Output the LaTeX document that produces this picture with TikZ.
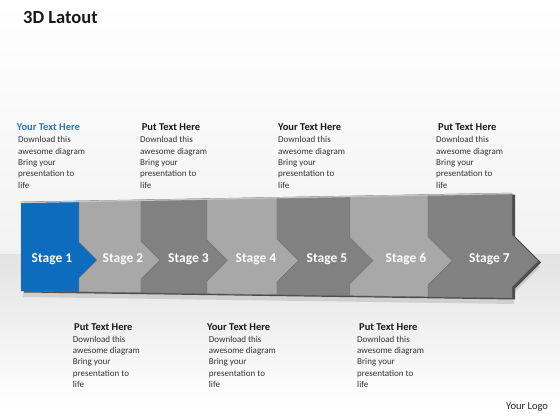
\documentclass[tikz,border=0pt]{standalone}
\usepackage{fontspec}
\setmainfont{Carlito}
\usepackage{tikz}

\definecolor{stageblue}{RGB}{14,108,190}
\definecolor{headblue}{RGB}{46,117,182}
\definecolor{lightstage}{RGB}{168,168,168}
\definecolor{darkstage}{RGB}{129,129,129}

\begin{document}
\begin{tikzpicture}[x=1pt, y=-1pt,
	stagelbl/.style={text=white, font=\fontsize{13.5}{16}\selectfont\bfseries, anchor=base, inner sep=0pt},
	head/.style={font=\fontsize{10.5}{12}\selectfont\bfseries, anchor=base west, inner sep=0pt, text=black!90},
	body/.style={font=\fontsize{9}{11.33}\selectfont, align=left, anchor=base west, inner sep=0pt, text=black!80},
	edge/.style={draw=black!55, line width=0.4pt}]
	\useasboundingbox (0,0) rectangle (560,420);

	% background, floor
	\shade[top color=white, bottom color=gray!10] (0,0) rectangle (560,254);
	\shade[top color=gray!22, bottom color=white] (0,254) rectangle (560,405);
	\fill[white] (0,405) rectangle (560,420);

	% title
	\node[font=\fontsize{18.5}{22}\selectfont\bfseries, anchor=base west, inner sep=0pt, text=black!90] (title) at (23,24) {3D Latout};

	% shadow of the band
	\fill[gray, opacity=0.25] (23,208) -- (514,199) -- (514,241) -- (540,267) -- (514,293) -- (514,304) -- (23,297) -- cycle;
	\fill[black!70] (24,203.5) -- (515,194.5) -- (515,236.5) -- (541,262.5) -- (515,288.5) -- (515,299.5) -- (24,292.5) -- cycle;

	% stages
	\draw[edge, fill=stageblue] (21,202) -- (79,200.9) -- (79,242.1) -- (97,260.1) -- (79,278.1) -- (79,291.8) -- (21,291) -- cycle;
	\draw[edge, fill=lightstage] (79,200.9) -- (141,199.8) -- (141,241.1) -- (160.1,260.2) -- (141,279.3) -- (141,292.7) -- (79,291.8) -- (79,278.1) -- (97,260.1) -- (79,242.1) -- cycle;
	\draw[edge, fill=darkstage] (141,199.8) -- (207,198.6) -- (207,240) -- (227.4,260.4) -- (207,280.8) -- (207,293.7) -- (141,292.7) -- (141,279.3) -- (160.1,260.2) -- (141,241.1) -- cycle;
	\draw[edge, fill=lightstage] (207,198.6) -- (277,197.3) -- (277,238.8) -- (298.7,260.5) -- (277,282.2) -- (277,294.7) -- (207,293.7) -- (207,280.8) -- (227.4,260.4) -- (207,240) -- cycle;
	\draw[edge, fill=darkstage] (277,197.3) -- (350,196) -- (350,237.7) -- (373,260.7) -- (350,283.7) -- (350,295.7) -- (277,294.7) -- (277,282.2) -- (298.7,260.5) -- (277,238.8) -- cycle;
	\draw[edge, fill=lightstage] (350,196) -- (428,194.5) -- (428,236.4) -- (452.4,260.8) -- (428,285.2) -- (428,296.8) -- (350,295.7) -- (350,283.7) -- (373,260.7) -- (350,237.7) -- cycle;
	\draw[edge, fill=darkstage] (428,194.5) -- (512,193) -- (512,235) -- (538,261) -- (512,287) -- (512,298) -- (428,296.8) -- (428,285.2) -- (452.4,260.8) -- (428,236.4) -- cycle;

	% top bevel
	\draw[gray!45, line width=1.2pt] (21,202.6) -- (512,193.6);

	% stage labels
	\node[stagelbl] (s1) at (52,262.5) {Stage 1};
	\node[stagelbl] (s2) at (123,262.5) {Stage 2};
	\node[stagelbl] (s3) at (188.5,262.5) {Stage 3};
	\node[stagelbl] (s4) at (256,262.5) {Stage 4};
	\node[stagelbl] (s5) at (327,262.5) {Stage 5};
	\node[stagelbl] (s6) at (406,262.5) {Stage 6};
	\node[stagelbl] (s7) at (489.5,262.5) {Stage 7};

	% text above (body anchored at the baseline of its last line)
	\node[head, text=headblue] (hA) at (16.7,130.7) {Your Text Here};
	\node[body] (bA) at (18,188.3) {Download this\\awesome diagram\\Bring your\\presentation to\\life};
	\node[head] (hB) at (141.7,130.7) {Put Text Here};
	\node[body] (bB) at (140,188.3) {Download this\\awesome diagram\\Bring your\\presentation to\\life};
	\node[head] (hC) at (278,130.7) {Your Text Here};
	\node[body] (bC) at (278,188.3) {Download this\\awesome diagram\\Bring your\\presentation to\\life};
	\node[head] (hD) at (438,130.7) {Put Text Here};
	\node[body] (bD) at (436,188.3) {Download this\\awesome diagram\\Bring your\\presentation to\\life};

	% text below
	\node[head] (hE) at (74,330.4) {Put Text Here};
	\node[body] (bE) at (72.7,387.6) {Download this\\awesome diagram\\Bring your\\presentation to\\life};
	\node[head] (hF) at (207,330.4) {Your Text Here};
	\node[body] (bF) at (208.7,387.6) {Download this\\awesome diagram\\Bring your\\presentation to\\life};
	\node[head] (hG) at (359,330.4) {Put Text Here};
	\node[body] (bG) at (357,387.6) {Download this\\awesome diagram\\Bring your\\presentation to\\life};

	% logo
	\node[font=\fontsize{10.5}{12}\selectfont, anchor=base west, inner sep=0pt, text=black!85] (logo) at (506,409.5) {Your Logo};
\end{tikzpicture}
\end{document}
